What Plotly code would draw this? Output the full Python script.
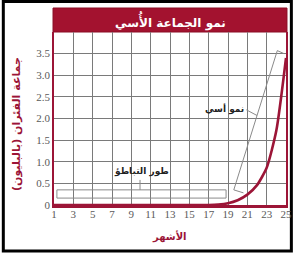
import plotly.graph_objects as go

months = list(range(1, 26))
population = [0.0, 0.0, 0.0, 0.0, 0.0, 0.0, 0.0, 0.0, 0.0, 0.0,
              0.0, 0.0, 0.0, 0.0, 0.0, 0.0, 0.0, 0.01, 0.04, 0.11,
              0.24, 0.46, 0.86, 1.72, 3.4]

x_ticks = [1, 3, 5, 7, 9, 11, 13, 15, 17, 19, 21, 23, 25]
y_ticks = [0, 0.5, 1.0, 1.5, 2.0, 2.5, 3.0, 3.5, 4.0]
y_tick_text = ["0", "0.5", "1.0", "1.5", "2.0", "2.5", "3.0", "3.5", ""]

title_text = "نمو الجماعة الأُسي"
x_title = "الأشهر"
y_title = "جماعة الفئران (بالبليون)"
lag_label = "طور التباطؤ"
exp_label = "نمو أسي"

CRIMSON = "#9c1537"
GRID = "#7a7a7a"
TICK = "#5a5a5a"
AR_FONT = "DejaVu Sans"

fig = go.Figure()
fig.add_trace(go.Scatter(
    x=months, y=population, mode="lines",
    line=dict(color=CRIMSON, width=2.6, shape="spline", smoothing=0.6),
    hoverinfo="skip", showlegend=False))

W, H = 299, 255
L, R, T, B = 54, 7, 32, 50
pw, ph = W - L - R, H - T - B

def px(xp):
    return (xp - L) / pw

def py(yp):
    return (H - B - yp) / ph

shapes = []
shapes.append(dict(type="rect", xref="paper", yref="paper",
                   x0=px(2), x1=px(297.5), y0=py(251), y1=py(1.5),
                   line=dict(color="black", width=3), layer="below"))
shapes.append(dict(type="rect", xref="paper", yref="paper",
                   x0=px(53), x1=px(293), y0=1.0, y1=py(8),
                   fillcolor="#a3122f", line=dict(color="#8a0c25", width=1),
                   layer="below"))
gray = "#8a8a8a"
shapes.append(dict(type="rect", xref="x", yref="y", x0=1.3, x1=18.8, y0=0.16, y1=0.35,
                   line=dict(color=gray, width=1)))
shapes.append(dict(type="line", xref="x", yref="y", x0=9.9, x1=9.9, y0=0.35, y1=0.58,
                   line=dict(color=gray, width=1)))
shapes.append(dict(type="line", xref="x", yref="y", x0=19.6, x1=24.1, y0=0.35, y1=3.57,
                   line=dict(color=gray, width=1)))
shapes.append(dict(type="line", xref="x", yref="y", x0=19.6, x1=20.6, y0=0.35, y1=0.28,
                   line=dict(color=gray, width=1)))
shapes.append(dict(type="line", xref="x", yref="y", x0=24.1, x1=24.8, y0=3.57, y1=3.5,
                   line=dict(color=gray, width=1)))
shapes.append(dict(type="line", xref="x", yref="y", x0=20.9, x1=22.0, y0=2.2, y1=2.07,
                   line=dict(color=gray, width=1)))

annotations = [
    dict(text="<b>" + title_text + "</b>", xref="paper", yref="paper",
         x=px(173), y=py(21), showarrow=False, xanchor="center", yanchor="middle",
         font=dict(family=AR_FONT, size=12, color="white")),
    dict(text="<b>" + x_title + "</b>", xref="paper", yref="paper",
         x=px(172), y=py(237), showarrow=False, xanchor="center", yanchor="middle",
         font=dict(family=AR_FONT, size=10, color=CRIMSON)),
    dict(text="<b>" + y_title + "</b>", xref="paper", yref="paper",
         x=px(16), y=py(124), showarrow=False, textangle=-90,
         xanchor="center", yanchor="middle",
         font=dict(family=AR_FONT, size=11, color=CRIMSON)),
    dict(text="<b>" + lag_label + "</b>", xref="x", yref="y",
         x=10.0, y=0.77, showarrow=False, xanchor="center", yanchor="middle",
         font=dict(family=AR_FONT, size=9, color="#222")),
    dict(text="<b>" + exp_label + "</b>", xref="x", yref="y",
         x=18.6, y=2.22, showarrow=False, xanchor="center", yanchor="middle",
         font=dict(family=AR_FONT, size=9, color="#222")),
]

fig.update_layout(
    width=W, height=H,
    margin=dict(l=L, r=R, t=T, b=B, pad=0),
    paper_bgcolor="white", plot_bgcolor="white",
    shapes=shapes, annotations=annotations,
    xaxis=dict(range=[1, 25], tickvals=x_ticks, ticktext=[str(v) for v in x_ticks],
               showgrid=True, gridcolor=GRID, gridwidth=1,
               showline=True, linecolor=CRIMSON, linewidth=2.5, mirror=False,
               zeroline=False, ticks="", ticklen=0, ticklabelstandoff=-3,
               tickfont=dict(family="Liberation Serif", size=11, color=TICK)),
    yaxis=dict(range=[0, 4], tickvals=y_ticks, ticktext=y_tick_text,
               showgrid=True, gridcolor=GRID, gridwidth=1,
               showline=True, linecolor=CRIMSON, linewidth=1.5, mirror=True,
               zeroline=False, ticks="", ticklen=0,
               tickfont=dict(family="Liberation Serif", size=11, color=TICK)),
)

fig.write_html("out.html", config={"displayModeBar": False},
               post_script="document.body.style.margin='0px';")
